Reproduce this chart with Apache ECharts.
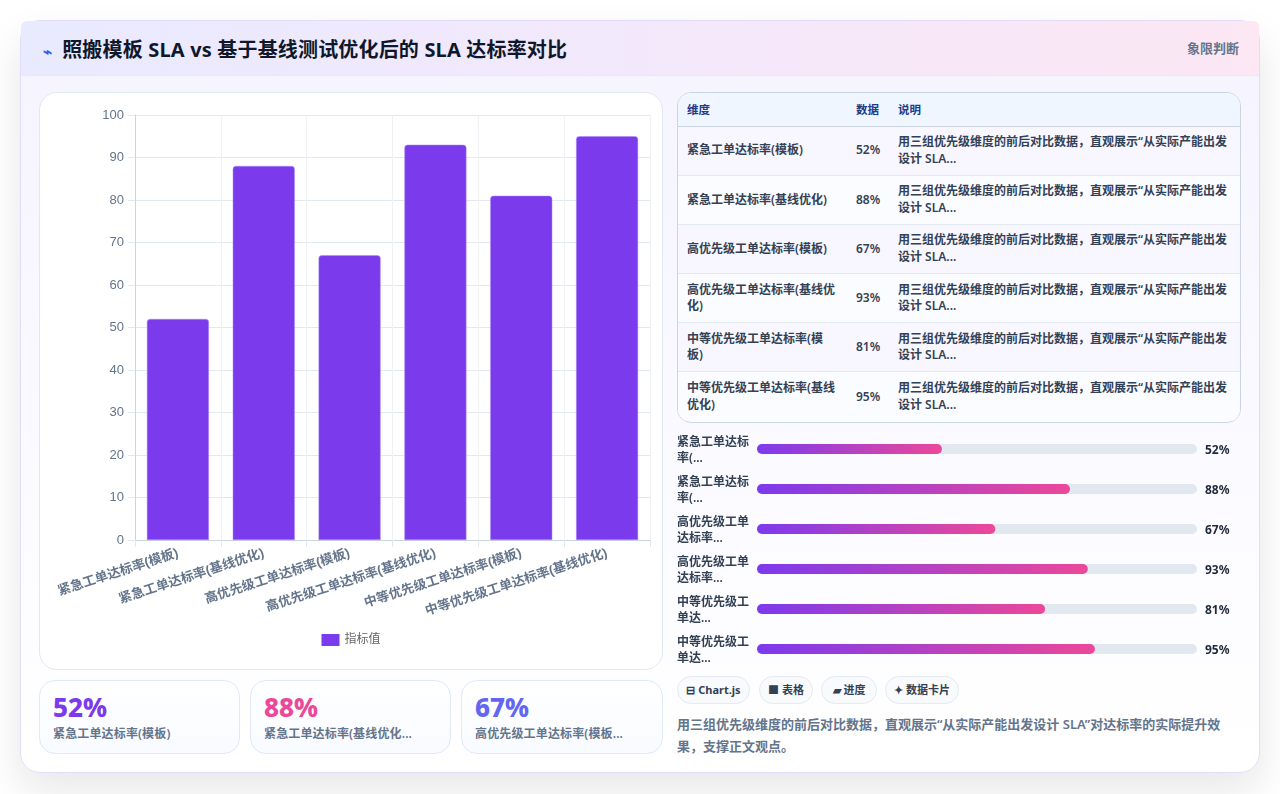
<!DOCTYPE html>
<html lang="zh-CN">
<head>
<meta charset="utf-8">
<title>SLA 达标率对比</title>
<script src="https://cdn.jsdelivr.net/npm/echarts@6/dist/echarts.min.js"></script>
<style>
  * { box-sizing: border-box; }
  html, body { margin: 0; width: 1280px; height: 794px; overflow: hidden; background: #fff; }
  body { font-family: "Noto Sans", "Noto Sans CJK SC", sans-serif; position: relative; }
  .board { position: absolute; left: 20px; top: 20px; width: 1240px; height: 753px; border: 1px solid #e0dcfa;
    border-radius: 20px; background: linear-gradient(180deg, #f5f3ff 0%, #ffffff 100%);
    box-shadow: 0 18px 40px rgba(15, 23, 42, .10); }
  .head { position: absolute; left: 0; top: 0; width: 1238px; height: 55px; border-bottom: 1px solid #ebe7fb;
    border-radius: 6px 6px 0 0; background: linear-gradient(90deg, #e9eafe 0%, #f3e8fb 50%, #fce7f3 100%); }
  .title { position: absolute; left: 22px; top: 14px; font-size: 20px; font-weight: 700; letter-spacing: .17px; line-height: 30px; color: #0f172a; white-space: nowrap; }
  .title i { font-style: normal; color: #2563eb; font-size: 15px; margin-right: 10px; }
  .side { position: absolute; right: 20px; top: 17px; font-size: 13px; font-weight: 700; line-height: 20px; color: #64748b; }
  .panel { position: absolute; background: #fff; border: 1px solid #e2e8f0; }
  #barChart { position: absolute; left: 39px; top: 92px; width: 624px; height: 578px; border-radius: 18px; }
  .stat { position: absolute; top: 680px; height: 74px; border: 1px solid #dfe9fb; border-radius: 16px;
    background: linear-gradient(180deg, #fff 0%, #f8fbff 100%); }
  .stat b { position: absolute; left: 13px; top: 9px; font-size: 26px; line-height: 34px; font-weight: 800; }
  .stat span { position: absolute; left: 13px; top: 44px; font-size: 12px; letter-spacing: .15px; line-height: 18px; font-weight: 600; color: #64748b; white-space: nowrap; }
  .tablebox { position: absolute; left: 677px; top: 92px; width: 564px; height: 331px; border: 1px solid #cbd5e1;
    border-radius: 14px; overflow: hidden; background: #fff; }
  table { border-collapse: collapse; table-layout: fixed; width: 562px; font-size: 12px; color: #334155; font-weight: 600; }
  th { height: 33px; padding: 0 9px; text-align: left; background: #eff6ff; color: #1e3a8a; font-size: 11.5px; font-weight: 700; border-bottom: 1px solid #cbd5e1; }
  td { height: 49.2px; padding: 0 9px; line-height: 16.5px; border-bottom: 1px solid #e2e8f0; }
  td:nth-child(2), th:nth-child(2) { padding-left: 10px; padding-right: 0; }
  tr:last-child td { border-bottom: none; }
  tbody tr:nth-child(odd) td { background: #f8f7ff; }
  tbody tr:nth-child(even) td { background: #fbfcff; }
  #progress { position: absolute; left: 677px; top: 429px; width: 564px; height: 242px; }
  .pill { position: absolute; top: 676px; height: 28px; border: 1px solid #e5eaf2; border-radius: 14px; background: #f8fafc;
    font-size: 11px; line-height: 26px; font-weight: 700; color: #334155; text-align: center; white-space: nowrap; }
  .note { position: absolute; left: 677px; top: 713px; width: 564px; font-size: 13px; line-height: 22px; font-weight: 600; color: #64748b; }
</style>
</head>
<body>
<div class="board">
  <div class="head">
    <div class="title" id="title"></div>
    <div class="side" id="side"></div>
  </div>
</div>
<div class="panel" id="barChart"></div>
<div id="stats"></div>
<div class="tablebox"><table id="table"></table></div>
<div id="progress"></div>
<div id="pills"></div>
<div class="note" id="note"></div>

<script>
// Chart data and texts
const titleIcon = '⌁';
const titleText = '照搬模板 SLA vs 基于基线测试优化后的 SLA 达标率对比';
const sideText = '象限判断';
const categories = ['紧急工单达标率(模板)', '紧急工单达标率(基线优化)', '高优先级工单达标率(模板)', '高优先级工单达标率(基线优化)', '中等优先级工单达标率(模板)', '中等优先级工单达标率(基线优化)'];
const values = [52, 88, 67, 93, 81, 95];
const seriesName = '指标值';
const yTicksMax = 100;
const yTicksStep = 10;
const tableHeads = ['维度', '数据', '说明'];
const tableNote = '用三组优先级维度的前后对比数据，直观展示“从实际产能出发设计 SLA...';
const progressLabels = ['紧急工单达标\n率(...', '紧急工单达标\n率(...', '高优先级工单\n达标率...', '高优先级工单\n达标率...', '中等优先级工\n单达...', '中等优先级工\n单达...'];
// The progress track runs a little past 100 on its own scale
const progressScaleMax = 123.7;
const statLabels = ['紧急工单达标率(模板)', '紧急工单达标率(基线优化...', '高优先级工单达标率(模板...'];
const statColors = ['#7c3aed', '#ec4899', '#6366f1'];
const statLeft = [39, 250, 461];
const statWidth = [201, 201, 202];
const pillTexts = ['⊟ Chart.js', '■ 表格', '▰ 进度', '✦ 数据卡片'];
const pillLeft = [677, 759, 821, 885];
const pillWidth = [73, 54, 56, 74];
const noteText = '用三组优先级维度的前后对比数据，直观展示“从实际产能出发设计 SLA”对达标率的实际提升效果，支撑正文观点。';

// Static texts
document.getElementById('title').innerHTML = '<i>' + titleIcon + '</i>' + titleText;
document.getElementById('side').textContent = sideText;
document.getElementById('note').textContent = noteText;

// Summary cards: first three metrics
document.getElementById('stats').innerHTML = statLabels.map((t, i) =>
  `<div class="stat" style="left:${statLeft[i]}px;width:${statWidth[i]}px"><b style="color:${statColors[i]}">${values[i]}%</b><span>${t}</span></div>`
).join('');

// Detail table
document.getElementById('table').innerHTML =
  `<colgroup><col style="width:168px"><col style="width:43px"><col></colgroup>` +
  '<thead><tr>' + tableHeads.map(h => `<th>${h}</th>`).join('') + '</tr></thead><tbody>' +
  categories.map((c, i) => `<tr><td>${c}</td><td>${values[i]}%</td><td>${tableNote}</td></tr>`).join('') +
  '</tbody>';

// Tag pills
document.getElementById('pills').innerHTML = pillTexts.map((t, i) =>
  `<div class="pill" style="left:${pillLeft[i]}px;width:${pillWidth[i]}px">${t}</div>`
).join('');

// Main bar chart
const axisFont = '"Liberation Sans", "Noto Sans CJK SC", sans-serif';
const bar = echarts.init(document.getElementById('barChart'), null, { renderer: 'canvas' });
bar.setOption({
  animation: false,
  grid: { left: 95, top: 22, width: 515, height: 425, outerBoundsMode: 'none' },
  legend: {
    data: [seriesName], left: 'center', top: 536, icon: 'rect', itemWidth: 18, itemHeight: 12, itemGap: 6,
    itemStyle: { borderWidth: 0 },
    textStyle: { color: '#666', fontSize: 12, fontFamily: axisFont }
  },
  xAxis: {
    type: 'category', data: categories,
    axisLine: { show: true, lineStyle: { color: '#cbd5e1' } },
    axisTick: { show: true, length: 7, lineStyle: { color: '#e2e8f0' } },
    splitLine: { show: true, lineStyle: { color: '#eef2f7' } },
    axisLabel: { interval: 0, rotate: 18, margin: 13, color: '#64748b', fontSize: 13, fontWeight: 700, fontFamily: axisFont }
  },
  yAxis: {
    type: 'value', min: 0, max: yTicksMax, interval: yTicksStep,
    axisLine: { show: true, lineStyle: { color: '#cbd5e1' } },
    axisTick: { show: true, length: 7, lineStyle: { color: '#e2e8f0' } },
    splitLine: { lineStyle: { color: '#e2e8f0' } },
    axisLabel: { margin: 11, color: '#64748b', fontSize: 13, fontFamily: axisFont }
  },
  series: [{
    name: seriesName, type: 'bar', data: values, barWidth: 62,
    itemStyle: { color: '#7c3aed', borderRadius: [3, 3, 0, 0], borderColor: '#a78bfa', borderWidth: 0.5 }
  }]
});

// Progress rows: gradient fill over a rounded track; row labels sit on a second grid just below the bars
const rowFont = '"Noto Sans", "Noto Sans CJK SC", sans-serif';
const progress = echarts.init(document.getElementById('progress'), null, { renderer: 'canvas' });
progress.setOption({
  animation: false,
  grid: [
    { left: 80, top: 0, width: 440, height: 240, outerBoundsMode: 'none' },
    { left: 80, top: 2, width: 440, height: 240, outerBoundsMode: 'none' }
  ],
  xAxis: [
    { gridIndex: 0, type: 'value', min: 0, max: progressScaleMax, show: false },
    { gridIndex: 1, type: 'value', min: 0, max: progressScaleMax, show: false }
  ],
  yAxis: [
    { gridIndex: 0, type: 'category', inverse: true, data: categories, show: false },
    { gridIndex: 1, type: 'category', inverse: true, data: progressLabels, axisLine: { show: false }, axisTick: { show: false },
      axisLabel: { align: 'left', margin: 80, color: '#334155', fontSize: 12, fontWeight: 600, lineHeight: 16, fontFamily: rowFont } },
    { gridIndex: 1, type: 'category', inverse: true, position: 'right', data: values.map(v => v + '%'), axisLine: { show: false }, axisTick: { show: false },
      axisLabel: { margin: 8, color: '#1e293b', fontSize: 12, fontWeight: 700, fontFamily: rowFont } }
  ],
  series: [{
    type: 'bar', xAxisIndex: 0, yAxisIndex: 0, data: values, barWidth: 10, showBackground: true,
    backgroundStyle: { color: '#e2e8f0', borderRadius: 5 },
    itemStyle: { borderRadius: 5, color: new echarts.graphic.LinearGradient(0, 0, 1, 0, [
      { offset: 0, color: '#7c3aed' }, { offset: 1, color: '#ec4899' }
    ]) }
  }]
});
</script>
</body>
</html>
